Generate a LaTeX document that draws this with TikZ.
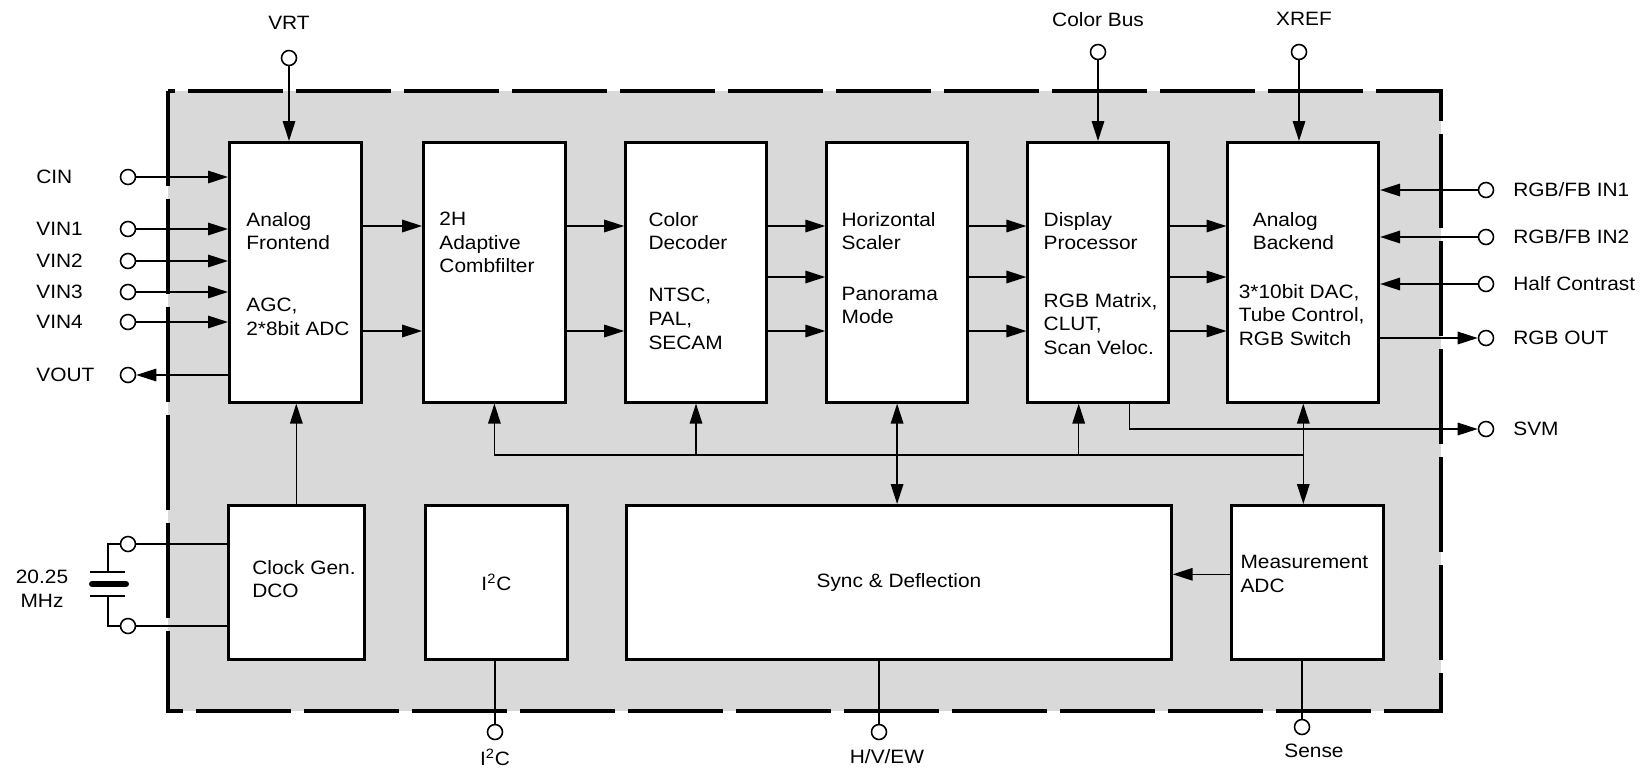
\documentclass[tikz,border=0pt]{standalone}
\usepackage{fontspec}
\setmainfont{Liberation Sans}[FakeStretch=1.08]
\usetikzlibrary{positioning,arrows.meta}

\begin{document}
\begin{tikzpicture}[x=0.02cm, y=-0.02cm,
					every node/.style={font=\fontsize{11}{13.4}\selectfont},
					block/.style={draw, fill=white, line width=1.5pt, inner sep=0pt},
					txt/.style={align=left, inner sep=0pt},
					lbl/.style={inner sep=0pt},
					port/.style={circle, draw, fill=white, line width=0.9pt, minimum size=0.3cm, inner sep=0pt},
					wire/.style={line width=0.9pt},
					sig/.style={wire, -{Triangle[length=0.4cm,width=0.25cm]}},
					sig2/.style={wire, {Triangle[length=0.4cm,width=0.25cm]}-{Triangle[length=0.4cm,width=0.25cm]}},
					chipframe/.style={draw, fill=black!15, line width=2.3pt, dash pattern=on 1.9cm off 0.26cm}]

  \useasboundingbox (0,0) rectangle (1646,768);

  % chip outline
  \draw[chipframe] (168,91) rectangle (1441,711);

  % upper row
  \node[block, minimum width=2.64cm, minimum height=5.2cm, anchor=north west] (AF) at (228,141) {};
  \node[block, minimum width=2.84cm, minimum height=5.2cm, right=1.19cm of AF] (CF) {};
  \node[block, minimum width=2.82cm, minimum height=5.2cm, right=1.15cm of CF] (CD) {};
  \node[block, minimum width=2.82cm, minimum height=5.2cm, right=1.15cm of CD] (HS) {};
  \node[block, minimum width=2.82cm, minimum height=5.2cm, right=1.15cm of HS] (DP) {};
  \node[block, minimum width=3.02cm, minimum height=5.2cm, right=1.13cm of DP] (AB) {};

  \node[txt, below right=1.42cm and 0.36cm of AF.north west] (AFt) {Analog\\Frontend\\[0.77cm]AGC,\\2*8bit ADC};
  \node[txt, below right=1.42cm and 0.34cm of CF.north west] (CFt) {2H\\Adaptive\\Combfilter};
  \node[txt, below right=1.42cm and 0.48cm of CD.north west] (CDt) {Color\\Decoder\\[0.57cm]NTSC,\\PAL,\\SECAM};
  \node[txt, below right=1.42cm and 0.32cm of HS.north west] (HSt) {Horizontal\\Scaler\\[0.54cm]Panorama\\Mode};
  \node[txt, below right=1.42cm and 0.34cm of DP.north west] (DPt) {Display\\Processor\\[0.68cm]RGB Matrix,\\CLUT,\\Scan Veloc.};
  \node[txt, below right=1.42cm and 0.24cm of AB.north west] (ABt) {\hspace*{0.28cm}Analog\\\hspace*{0.28cm}Backend\\[0.5cm]3*10bit DAC,\\Tube Control,\\RGB Switch};

  % lower row
  \node[block, minimum width=2.72cm, minimum height=3.08cm, anchor=north west] (CG) at (227,504) {};
  \node[block, minimum width=2.84cm, minimum height=3.08cm, right=1.17cm of CG] (IC) {I\textsuperscript{2}C};
  \node[block, minimum width=10.9cm, minimum height=3.08cm, right=1.13cm of IC] (SD) {Sync \& Deflection};
  \node[block, minimum width=3.04cm, minimum height=3.08cm, right=1.15cm of SD] (MA) {};

  \node[txt, below right=1.12cm and 0.5cm of CG.north west] (CGt) {Clock Gen.\\DCO};
  \node[txt, below right=1.02cm and 0.2cm of MA.north west] (MAt) {Measurement\\ADC};

  % pins
  \node[port] (tVRT) at (289,58) {};
  \node[port] (tCB) at (1098,52) {};
  \node[port] (tXREF) at (1299,52) {};
  \node[port] (tCIN) at (128,177) {};
  \node[port] (tVIN1) at (128,229) {};
  \node[port] (tVIN2) at (128,261) {};
  \node[port] (tVIN3) at (128,292) {};
  \node[port] (tVIN4) at (128,322) {};
  \node[port] (tVOUT) at (128,375) {};
  \node[port] (tIN1) at (1486,190) {};
  \node[port] (tIN2) at (1486,237) {};
  \node[port] (tHC) at (1486,284) {};
  \node[port] (tRGBO) at (1486,338) {};
  \node[port] (tSVM) at (1486,429) {};
  \node[port] (tX1) at (128,544) {};
  \node[port] (tX2) at (128,626) {};
  \node[port] (tI2C) at (495,732) {};
  \node[port] (tHVE) at (879,732) {};
  \node[port] (tSense) at (1302,727) {};

  % pin labels
  \node[lbl, above=0.4cm of tVRT] (lVRT) {VRT};
  \node[lbl, above=0.34cm of tCB] (lCB) {Color Bus};
  \node[lbl, above=0.35cm of tXREF, xshift=0.1cm] (lXREF) {XREF};
  \node[lbl, anchor=west] (lCIN) at (36,177) {CIN};
  \node[lbl, anchor=west] (lVIN1) at (36,229) {VIN1};
  \node[lbl, anchor=west] (lVIN2) at (36,261) {VIN2};
  \node[lbl, anchor=west] (lVIN3) at (36,292) {VIN3};
  \node[lbl, anchor=west] (lVIN4) at (36,322) {VIN4};
  \node[lbl, anchor=west] (lVOUT) at (36,375) {VOUT};
  \node[lbl, anchor=west] (lIN1) at (1513,190) {RGB/FB IN1};
  \node[lbl, anchor=west] (lIN2) at (1513,237) {RGB/FB IN2};
  \node[lbl, anchor=west] (lHC) at (1513,284) {Half Contrast};
  \node[lbl, anchor=west] (lRGBO) at (1513,338) {RGB OUT};
  \node[lbl, anchor=west] (lSVM) at (1513,429) {SVM};
  \node[lbl, below=0.17cm of tI2C] (lI2C) {I\textsuperscript{2}C};
  \node[lbl, below=0.17cm of tHVE, xshift=0.16cm] (lHVE) {H/V/EW};
  \node[lbl, below=0.17cm of tSense, xshift=0.24cm] (lSense) {Sense};
  \node[align=center, inner sep=0pt] (lXtal) at (42,589) {20.25\\MHz};

  % signal rows
  \coordinate (r1) at (0,226);
  \coordinate (r2) at (0,277);
  \coordinate (r3) at (0,331);
  \coordinate (bus) at (0,455);
  \coordinate (dpIn) at ([xshift=-0.39cm]DP.south);

  \path[sig] (tVRT) edge (tVRT |- AF.north)
             (tCB) edge (tCB |- DP.north)
             (tXREF) edge (tXREF |- AB.north);

  \path[sig] (tCIN) edge (AF.west |- tCIN)
             (tVIN1) edge (AF.west |- tVIN1)
             (tVIN2) edge (AF.west |- tVIN2)
             (tVIN3) edge (AF.west |- tVIN3)
             (tVIN4) edge (AF.west |- tVIN4)
             (AF.west |- tVOUT) edge (tVOUT);

  \path[sig] (AF.east |- r1) edge (CF.west |- r1)
             (AF.east |- r3) edge (CF.west |- r3)
             (CF.east |- r1) edge (CD.west |- r1)
             (CF.east |- r3) edge (CD.west |- r3)
             (CD.east |- r1) edge (HS.west |- r1)
             (CD.east |- r2) edge (HS.west |- r2)
             (CD.east |- r3) edge (HS.west |- r3)
             (HS.east |- r1) edge (DP.west |- r1)
             (HS.east |- r2) edge (DP.west |- r2)
             (HS.east |- r3) edge (DP.west |- r3)
             (DP.east |- r1) edge (AB.west |- r1)
             (DP.east |- r2) edge (AB.west |- r2)
             (DP.east |- r3) edge (AB.west |- r3);

  \path[sig] (tIN1) edge (AB.east |- tIN1)
             (tIN2) edge (AB.east |- tIN2)
             (tHC) edge (AB.east |- tHC)
             (AB.east |- tRGBO) edge (tRGBO);
  \draw[sig] ([xshift=0.63cm]DP.south) |- (tSVM);

  % control bus
  \draw[sig] (AB.south |- bus) -| (CF.south);
  \path[sig] (CD.south |- bus) edge (CD.south)
             (dpIn |- bus) edge (dpIn);
  \path[sig2] (HS.south) edge (HS.south |- SD.north)
              (AB.south) edge (AB.south |- MA.north);
  \draw[sig] (CG.north) -- (CG.north |- AF.south);
  \draw[sig] ([yshift=0.16cm]MA.west) -- ([yshift=0.16cm]SD.east);

  % bottom pins
  \draw[wire] (tI2C |- IC.south) -- (tI2C);
  \draw[wire] (tHVE |- SD.south) -- (tHVE);
  \draw[wire] (tSense |- MA.south) -- (tSense);

  % crystal
  \draw[wire] (tX1) -- (CG.west |- tX1);
  \draw[wire] (tX2) -- (CG.west |- tX2);
  \draw[wire] (tX1) -| (108,572);
  \draw[wire] (90,572) -- (125,572);
  \draw[line width=0.12cm, line cap=round] (92,584) -- (126,584);
  \draw[wire] (90,596) -- (125,596);
  \draw[wire] (108,596) |- (tX2);
\end{tikzpicture}
\end{document}
